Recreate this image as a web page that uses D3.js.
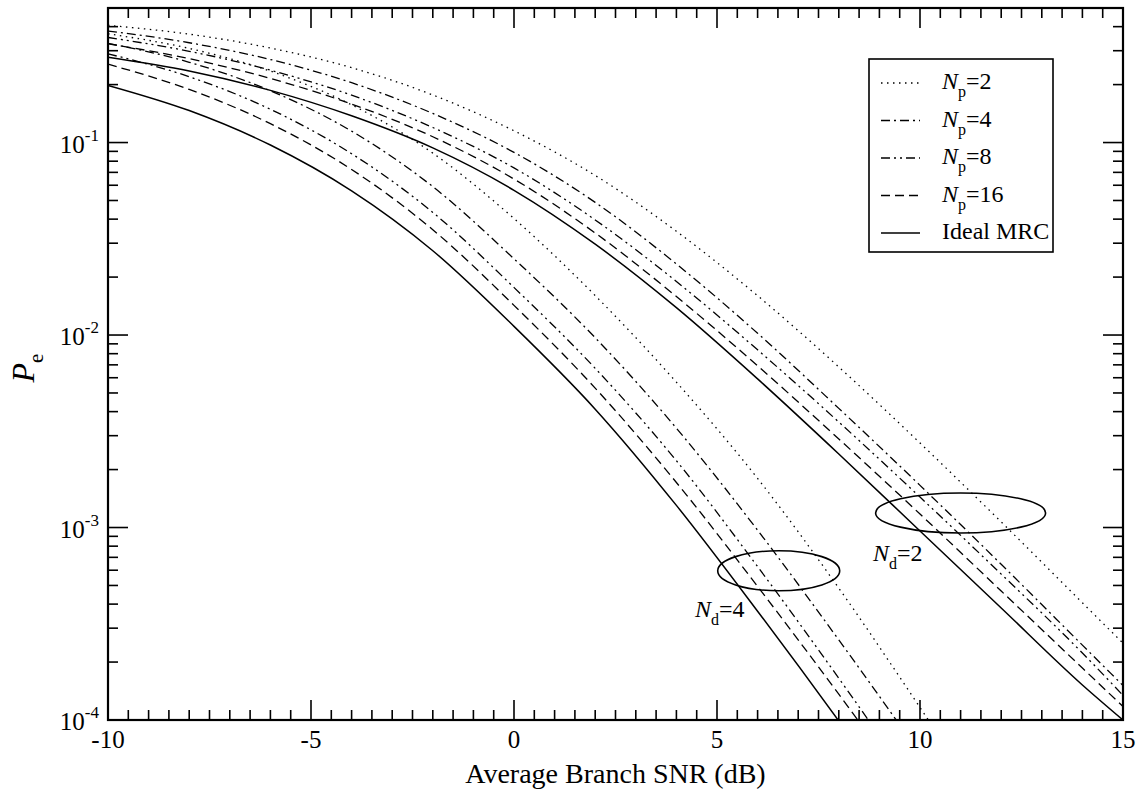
<!DOCTYPE html>
<html><head><meta charset="utf-8">
<script src="https://cdn.jsdelivr.net/npm/d3@7"></script>
<style>
body{margin:0;background:#fff}
svg{display:block}
text{font-family:"Liberation Serif","Times New Roman",Times,serif;fill:#000}
</style>
</head><body>
<svg id="c" width="1146" height="791" font-family="Liberation Serif, Times New Roman, Times, serif"></svg>
<script>
// ---- data ----
const snrNd2 = [-10,-8,-6,-4,-2,0,2,4,6,8,10,12,14,15];
const nd2Np2  = [0.4064,0.3656,0.3097,0.2449,0.1766,0.1151,0.06745,0.03459,0.0160,6.823e-3,2.748e-3,1.069e-3,4.064e-4,2.506e-4];
const nd2Np4  = [0.380,0.330,0.270,0.2046,0.1416,0.0889,0.04887,0.02339,0.01021,4.159e-3,1.656e-3,6.44e-4,2.449e-4,1.51e-4];
const nd2Np8  = [0.3516,0.2979,0.2377,0.1762,0.1197,0.0738,0.03963,0.01897,8.375e-3,3.532e-3,1.439e-3,5.728e-4,2.228e-4,1.343e-4];
const nd2Np16 = [0.326,0.2729,0.2153,0.1585,0.1072,0.0646,0.03388,0.01585,6.918e-3,2.884e-3,1.175e-3,4.677e-4,1.862e-4,1.175e-4];
const nd2Ideal= [0.2773,0.2355,0.1866,0.1377,0.0938,0.05649,0.02965,0.01387,5.916e-3,2.41e-3,9.594e-4,3.82e-4,1.521e-4,1.0e-4];

const snrNd4 = [-10,-8,-6,-4,-2,0,2,4,6,8,10,12];
const nd4Np2  = [0.3673,0.3083,0.2350,0.1570,0.0881,0.04027,0.01603,5.689e-3,1.799e-3,4.842e-4,1.161e-4,2.661e-5];
const nd4Np4  = [0.3281,0.2612,0.1858,0.1146,0.05902,0.02489,9.683e-3,3.281e-3,9.683e-4,2.606e-4,6.699e-5,1.683e-5];
const nd4Np8  = [0.2891,0.2198,0.1489,0.0875,0.04335,0.01766,6.714e-3,2.223e-3,6.266e-4,1.648e-4,4.14e-5,1.047e-5];
const nd4Np16 = [0.2553,0.1888,0.1253,0.07244,0.03524,0.01426,5.297e-3,1.714e-3,4.943e-4,1.361e-4,3.581e-5,9.12e-6];
const nd4Ideal= [0.1982,0.1466,0.09705,0.0561,0.02742,0.01109,4.121e-3,1.303e-3,3.673e-4,9.886e-5,2.541e-5,6.383e-6];

const legendLabels = ["2","4","8","16","Ideal MRC"];
const xTicks = [-10,-5,0,5,10,15];
const yTickExps = [-4,-3,-2,-1];

// ---- layout ----
const W=1146,H=791, m={l:108,r:23,t:8,b:71};
const svg = d3.select("#c");
const x = d3.scaleLinear().domain([-10,15]).range([m.l, W-m.r]);
const y = d3.scaleLog().domain([1e-4,0.5]).range([H-m.b, m.t]);

const styles = [
  {dash:"1.5,4.5", w:1.3},        // Np=2 dotted
  {dash:"9,4,2,4", w:1.3},        // Np=4 dash-dot
  {dash:"9,4,2,4,2,4", w:1.3},    // Np=8 dash-dot-dot
  {dash:"9,5", w:1.3},            // Np=16 dashed
  {dash:null, w:1.5}              // ideal
];

svg.append("defs").append("clipPath").attr("id","clip")
  .append("rect").attr("x",m.l).attr("y",m.t).attr("width",W-m.l-m.r).attr("height",H-m.t-m.b);

const line = (xs)=> d3.line().x((d,i)=>x(xs[i])).y(d=>y(d)).curve(d3.curveMonotoneX);

const g = svg.append("g").attr("clip-path","url(#clip)");
const groups = [
  {xs:snrNd2, series:[nd2Np2,nd2Np4,nd2Np8,nd2Np16,nd2Ideal]},
  {xs:snrNd4, series:[nd4Np2,nd4Np4,nd4Np8,nd4Np16,nd4Ideal]}
];
groups.forEach(grp=>{
  grp.series.forEach((s,i)=>{
    g.append("path").attr("d",line(grp.xs)(s)).attr("fill","none")
      .attr("stroke","#000").attr("stroke-width",styles[i].w)
      .attr("stroke-dasharray",styles[i].dash);
  });
});

// ---- axes: ticks inward on all sides ----
const ax = svg.append("g").attr("stroke","#000");
const xMinor = d3.range(-10,15.01,0.5);
xMinor.forEach(v=>{
  const major = Math.abs(v%5)<1e-9;
  const L = major?20:10;
  ax.append("line").attr("x1",x(v)).attr("x2",x(v)).attr("y1",H-m.b).attr("y2",H-m.b-L).attr("stroke-width",1.6);
  ax.append("line").attr("x1",x(v)).attr("x2",x(v)).attr("y1",m.t).attr("y2",m.t+L).attr("stroke-width",1.6);
});
const yMinor=[];
for(let e=-4;e<0;e++){ for(let k=1;k<10;k++){ const v=k*Math.pow(10,e); if(v<=0.5) yMinor.push({v,major:k===1}); } }
yMinor.forEach(t=>{
  const L=t.major?20:10;
  ax.append("line").attr("x1",m.l).attr("x2",m.l+L).attr("y1",y(t.v)).attr("y2",y(t.v)).attr("stroke-width",1.6);
  ax.append("line").attr("x1",W-m.r).attr("x2",W-m.r-L).attr("y1",y(t.v)).attr("y2",y(t.v)).attr("stroke-width",1.6);
});
svg.append("rect").attr("x",m.l).attr("y",m.t).attr("width",W-m.l-m.r).attr("height",H-m.t-m.b)
  .attr("fill","none").attr("stroke","#000").attr("stroke-width",2.2);

// tick labels
xTicks.forEach(v=>{
  svg.append("text").attr("x",x(v)).attr("y",H-m.b+28).attr("text-anchor","middle")
    .attr("font-size",25).text(v);
});
yTickExps.forEach(e=>{
  const t=svg.append("text").attr("x",m.l-9).attr("y",y(Math.pow(10,e))+10).attr("text-anchor","end").attr("font-size",25);
  t.append("tspan").text("10");
  t.append("tspan").attr("dy",-12).attr("font-size",17).text("-"+(-e));
});

// axis titles
svg.append("text").attr("x",(m.l+W-m.r)/2).attr("y",H-8).attr("text-anchor","middle")
  .attr("font-size",28).text("Average Branch SNR (dB)");
const yt = svg.append("text").attr("transform","translate(34,"+((m.t+H-m.b)/2+4)+") rotate(-90)")
  .attr("text-anchor","middle").attr("font-size",32);
yt.append("tspan").attr("font-style","italic").text("P");
yt.append("tspan").attr("dy",9).attr("font-size",21).text("e");

// legend
const lg = svg.append("g");
lg.append("rect").attr("x",869).attr("y",59).attr("width",184).attr("height",193)
  .attr("fill","#fff").attr("stroke","#000").attr("stroke-width",1.6);
legendLabels.forEach((lab,i)=>{
  const yy = 83 + i*37.5;
  lg.append("line").attr("x1",881).attr("x2",920).attr("y1",yy).attr("y2",yy)
    .attr("stroke","#000").attr("stroke-width",styles[i].w).attr("stroke-dasharray",styles[i].dash);
  const t = lg.append("text").attr("x",942).attr("y",yy+6).attr("font-size",24);
  if(i<4){
    t.append("tspan").attr("font-style","italic").text("N");
    t.append("tspan").attr("dy",8).attr("font-size",16).text("p");
    t.append("tspan").attr("dy",-8).text("="+lab);
  } else t.text(lab);
});

// annotations
const ann = [
  {cx:6.52, cy:5.96e-4, rx:61, ry:20, label:"4", lx:695, ly:617},
  {cx:11.0, cy:1.19e-3, rx:85, ry:20, label:"2", lx:873, ly:561}
];
ann.forEach(a=>{
  svg.append("ellipse").attr("cx",x(a.cx)).attr("cy",y(a.cy)).attr("rx",a.rx).attr("ry",a.ry)
    .attr("fill","none").attr("stroke","#000").attr("stroke-width",1.6);
  const t = svg.append("text").attr("x",a.lx).attr("y",a.ly).attr("font-size",24);
  t.append("tspan").attr("font-style","italic").text("N");
  t.append("tspan").attr("dy",8).attr("font-size",16).text("d");
  t.append("tspan").attr("dy",-8).text("="+a.label);
});
</script>
</body></html>
